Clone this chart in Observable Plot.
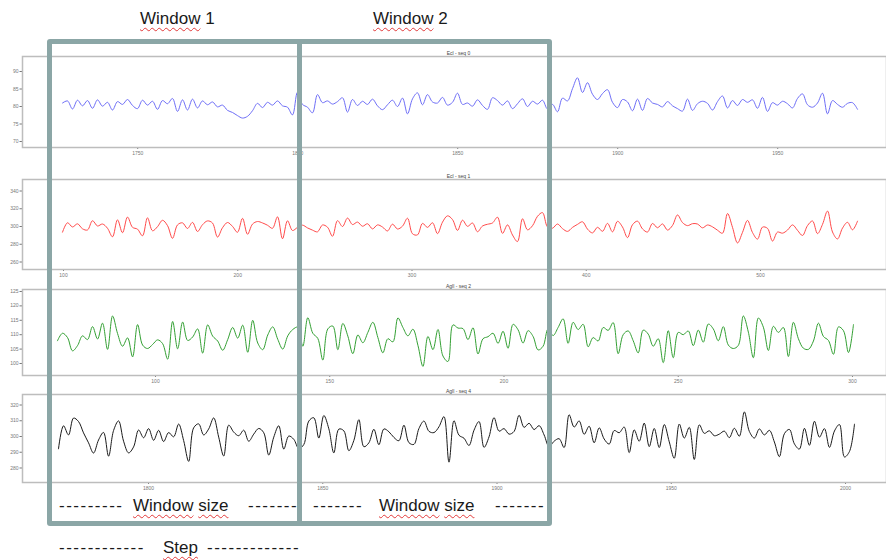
<!DOCTYPE html>
<html><head><meta charset="utf-8">
<script src="https://cdn.jsdelivr.net/npm/d3@7"></script>
<script src="https://cdn.jsdelivr.net/npm/@observablehq/plot@0.6"></script>
<style>
body{margin:0;background:#fff;}
#root{position:relative;width:886px;height:560px;overflow:hidden;background:#fff;font-family:"Liberation Sans",Arial,sans-serif;}
.note{position:absolute;font-size:17px;line-height:20px;color:#1a1a1a;white-space:pre;}
.sp{text-decoration:underline wavy #e23a3a;text-decoration-thickness:1px;text-underline-offset:3px;text-decoration-skip-ink:none;}
.dash{letter-spacing:1.5px;}
.box{position:absolute;box-sizing:border-box;border:5px solid #8ba6a6;border-radius:3px;}
.bar{position:absolute;background:#8ba6a6;}
</style></head><body><div id="root"></div>
<script>
// ---- data: four sequences ----
const titles = ["Ecl - seq 0", "Ecl - seq 1", "Agll - seq 2", "Agll - seq 4"];
const colors = ["#6e6ef7", "#ff4a4a", "#33a033", "#1a1a1a"];

const seq0 = [81.0,81.6,79.3,81.8,80.2,81.7,79.5,81.9,80.1,81.2,79.0,81.4,80.6,82.0,80.3,79.4,81.8,80.4,81.5,79.2,
81.7,80.8,82.3,78.6,81.9,79.0,82.1,79.6,81.6,80.5,81.3,79.9,80.4,78.9,78.3,77.4,76.7,77.2,78.8,80.9,
79.7,81.2,80.4,81.6,80.2,79.8,77.6,84.1,80.6,79.8,78.2,83.4,81.1,81.6,80.7,81.4,82.5,78.4,82.0,80.3,
81.5,80.6,82.1,80.2,79.1,80.5,81.8,80.0,82.4,77.9,82.2,83.9,80.5,83.4,81.3,81.0,82.6,80.4,81.2,83.8,
80.6,81.0,80.1,81.9,80.3,79.2,82.5,81.7,80.4,81.6,79.4,80.8,82.2,80.0,81.5,80.7,81.8,79.3,80.6,78.5,
82.4,81.6,85.1,88.2,84.0,86.8,83.5,82.0,83.7,84.8,81.2,79.7,82.0,81.3,78.8,82.1,78.9,82.3,81.0,80.6,
79.9,81.4,80.2,79.4,78.7,82.1,78.9,80.8,81.5,80.9,79.0,81.4,83.0,79.6,81.7,80.3,82.0,81.2,81.9,79.5,
82.6,78.6,81.1,80.4,81.5,80.8,79.6,82.3,83.6,80.5,79.8,81.0,83.8,77.9,81.7,80.6,79.8,80.9,81.1,79.2];

const seq1 = [293.6,304.2,299.5,303.0,297.4,296.1,306.5,300.6,302.8,298.0,288.4,307.5,293.0,310.6,299.1,297.0,289.5,309.8,295.2,299.8,
307.0,301.0,286.7,301.8,304.1,297.8,304.6,294.4,302.0,306.3,303.9,288.1,298.6,304.5,300.1,293.5,309.2,291.3,302.7,305.6,
304.0,301.4,298.0,310.9,286.2,306.4,295.5,299.0,301.5,298.4,295.9,294.0,301.7,299.2,289.0,306.6,300.0,309.5,302.2,305.0,
300.3,303.1,297.3,301.8,299.4,295.0,302.6,297.2,300.4,309.3,291.8,290.6,303.5,299.0,304.2,292.0,304.9,312.0,307.8,295.6,
307.1,300.2,303.9,294.1,300.6,302.5,304.0,310.5,292.3,301.8,290.4,283.0,308.7,296.3,300.9,311.5,315.6,299.5,298.1,302.8,
297.6,294.5,299.0,302.4,305.3,297.0,292.8,299.1,294.6,303.5,294.0,305.8,299.4,287.5,302.0,306.0,297.3,293.8,303.4,298.6,
302.9,296.0,301.2,313.0,304.4,301.0,303.2,302.8,298.5,301.7,299.6,295.8,292.4,314.6,299.0,281.5,293.4,306.8,293.2,285.8,
299.3,297.9,283.6,293.7,292.5,296.0,301.8,295.7,289.9,301.0,306.2,292.0,302.4,317.4,293.8,286.0,298.2,304.7,296.3,306.0];

const seq2 = [107.9,110.5,109.0,104.4,106.2,109.6,108.3,112.8,108.5,114.0,104.9,116.5,110.4,106.0,108.9,102.3,113.5,106.4,105.2,106.6,
108.2,106.9,101.5,114.6,105.1,114.4,108.0,109.2,112.0,103.6,113.4,109.5,107.8,104.6,108.3,112.5,108.8,113.3,103.9,115.0,
107.1,104.8,109.9,112.7,108.4,105.0,109.6,111.8,112.6,106.0,115.9,110.5,108.7,101.2,112.0,113.0,104.8,113.9,109.5,103.4,
109.9,107.2,110.8,114.3,109.0,103.7,108.6,107.5,115.8,112.5,109.6,111.9,106.3,99.0,109.4,104.8,111.8,102.6,100.7,113.4,
112.3,112.1,108.3,112.4,103.3,108.6,109.3,110.5,107.0,111.2,105.3,113.6,111.7,107.1,111.4,109.4,104.7,106.0,112.0,109.7,
112.5,115.5,107.0,114.3,111.8,113.6,105.8,109.0,107.8,112.5,111.5,114.2,103.4,110.0,111.3,107.9,103.7,111.6,110.2,106.0,
108.6,100.3,111.4,102.0,110.8,110.0,111.3,106.2,111.6,107.4,113.7,112.0,107.9,112.8,106.4,105.2,106.3,116.5,110.9,102.0,
115.8,112.6,104.5,112.9,110.8,112.5,102.4,114.3,108.6,105.3,104.9,107.8,114.0,109.4,108.0,103.2,112.7,111.4,103.8,113.5];

const seq3 = [292.2,306.8,301.0,311.7,309.5,302.3,296.0,289.5,297.8,302.6,287.5,303.8,309.9,297.0,289.6,293.4,304.1,299.2,305.0,297.6,
303.9,296.8,302.5,299.8,307.9,297.4,284.2,305.5,308.0,301.0,304.8,311.8,299.6,287.6,307.2,302.8,300.5,304.0,297.0,301.5,
305.1,302.4,288.2,299.6,306.8,292.0,300.3,298.2,292.4,294.9,309.8,311.9,299.0,313.3,304.9,289.6,304.7,303.6,291.0,297.5,
310.7,293.5,296.0,304.6,294.8,304.8,303.0,299.4,297.3,307.2,296.1,295.0,305.1,309.8,303.3,302.5,306.2,312.6,283.7,310.0,
300.8,298.9,294.3,304.0,309.5,293.1,299.8,312.0,303.4,305.0,301.5,303.2,313.5,305.8,308.4,304.4,306.9,301.0,293.5,297.0,
298.6,293.0,313.8,306.0,309.9,301.4,306.5,296.0,305.5,298.4,295.2,303.8,302.4,306.0,289.8,304.2,297.0,308.5,293.6,305.1,
293.0,307.6,296.6,286.2,307.9,299.0,305.8,285.4,307.4,302.0,303.6,300.5,301.5,303.4,299.3,305.2,300.2,315.6,303.2,299.0,
304.8,301.0,303.9,296.5,287.2,301.8,304.5,295.3,292.0,305.2,294.4,309.7,299.6,305.0,293.1,303.5,307.6,287.0,290.5,307.8];

// axis ticks and labels
const xTicks0 = [1750, 1800, 1850, 1900, 1950];
const xLabels0 = ["1750", "1800", "1850", "1900", "1950"];
const xTicks1 = [100, 200, 300, 400, 500];
const xLabels1 = ["100", "200", "300", "400", "500"];
const xTicks2 = [100, 150, 200, 250, 300];
const xLabels2 = ["100", "150", "200", "250", "300"];
const xTicks3 = [1800, 1850, 1900, 1950, 2000];
const xLabels3 = ["1800", "1850", "1900", "1950", "2000"];
const yTicks0 = [70, 75, 80, 85, 90];
const yTicks1 = [260, 280, 300, 320, 340];
const yTicks2 = [100, 105, 110, 115, 120, 125];
const yTicks3 = [280, 290, 300, 310, 320];

// sampling (start, step) of each sequence
const starts = [1726.5, 99.43, 71.88, 1774.17];
const steps = [1.5625, 2.8694, 1.4365, 1.4365];

// ---- layout ----
const root = document.getElementById("root");
const panels = [
  {values: seq0, xTicks: xTicks0, xLabels: xLabels0, yTicks: yTicks0, xDomain: [1714, 1984], yDomain: [68.29, 94.29], top: 56, bottom: 147},
  {values: seq1, xTicks: xTicks1, xLabels: xLabels1, yTicks: yTicks1, xDomain: [76.47, 572.3], yDomain: [251.55, 352.96], top: 179, bottom: 269},
  {values: seq2, xTicks: xTicks2, xLabels: xLabels2, yTicks: yTicks2, xDomain: [61.84, 309.76], yDomain: [95.83, 125.69], top: 289, bottom: 375},
  {values: seq3, xTicks: xTicks3, xLabels: xLabels3, yTicks: yTicks3, xDomain: [1763.84, 2011.76], yDomain: [270.79, 326.67], top: 394, bottom: 482}
];

panels.forEach((p, k) => {
  const data = p.values.map((v, i) => ({t: starts[k] + i * steps[k], v}));
  const m = 12;
  const svg = Plot.plot({
    width: 886,
    height: p.bottom - p.top + 2 * m,
    marginLeft: 22, marginRight: 0, marginTop: m, marginBottom: m,
    style: {background: "transparent", fontSize: "5px", fontFamily: "Liberation Sans, Arial, sans-serif", color: "#777", overflow: "visible"},
    x: {domain: p.xDomain, ticks: p.xTicks, tickFormat: d => p.xLabels[p.xTicks.indexOf(d)], tickSize: 2, tickPadding: 1.5, label: null},
    y: {domain: p.yDomain, ticks: p.yTicks, tickFormat: d => String(d), tickSize: 2.5, tickPadding: 1.5, label: null},
    marks: [
      Plot.frame({stroke: "#bdbdbd", strokeWidth: 1.5}),
      Plot.line(data, {x: "t", y: "v", stroke: colors[k], strokeWidth: 1, curve: "catmull-rom"}),
      Plot.text([titles[k]], {frameAnchor: "top", dy: -2, dx: 4, lineAnchor: "bottom", fontSize: 5, fill: "#444"})
    ]
  });
  svg.style.position = "absolute";
  svg.style.left = "0px";
  svg.style.top = (p.top - m) + "px";
  root.appendChild(svg);
});

// ---- annotation overlay (windows, labels) ----
const overlay = `
<div class="box" style="left:47px;top:39px;width:505px;height:487px;"></div>
<div class="bar" style="left:297px;top:39px;width:5px;height:487px;"></div>
<div class="note" style="left:140px;top:9px;"><span class="sp">Window</span> 1</div>
<div class="note" style="left:373px;top:9px;"><span class="sp">Window</span> 2</div>
<div class="note dash" style="left:59px;top:496px;">---------</div>
<div class="note" style="left:133px;top:496px;"><span class="sp">Window</span> <span class="sp">size</span></div>
<div class="note dash" style="left:248px;top:496px;">-------</div>
<div class="note dash" style="left:313px;top:496px;">-------</div>
<div class="note" style="left:379px;top:496px;"><span class="sp">Window</span> <span class="sp">size</span></div>
<div class="note dash" style="left:495px;top:496px;">-------</div>
<div class="note dash" style="left:59px;top:538px;">------------</div>
<div class="note" style="left:163px;top:538px;"><span class="sp">Step</span></div>
<div class="note dash" style="left:207px;top:538px;">-------------</div>
`;
root.insertAdjacentHTML("beforeend", overlay);
</script></body></html>
